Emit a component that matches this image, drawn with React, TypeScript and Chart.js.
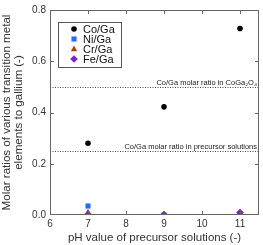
import React, { useEffect, useRef } from "react";
import { Chart, registerables } from "chart.js";

Chart.register(...registerables);

const phValues = [7, 9, 11];
const coGa = [0.28, 0.422, 0.728];
const niGa = [0.035, 0.0, 0.002];
const crGa = [0.01, 0.002, 0.008];
const feGa = [0.003, 0.002, 0.01];
const seriesNames = ["Co/Ga", "Ni/Ga", "Cr/Ga", "Fe/Ga"];
const xTickValues = [6, 7, 8, 9, 10, 11];
const refValues = [0.5, 0.25];
const refLabels = ["Co/Ga molar ratio in CoGa\u2082O\u2084", "Co/Ga molar ratio in precursor solutions"];
const xTitle = "pH value of precursor solutions (-)";
const yTitle = ["Molar ratios of various transition metal", "elements to gallium (-)"];

const FONT = "'Liberation Sans', Arial, Helvetica, sans-serif";
const TEXT = "#333333";
const FRAME = "#666666";

function drawMarker(ctx: CanvasRenderingContext2D, style: string, x: number, y: number, r: number, color: string) {
  ctx.fillStyle = color;
  ctx.beginPath();
  if (style === "circle") {
    ctx.arc(x, y, r, 0, Math.PI * 2);
  } else if (style === "rect") {
    const s = Math.SQRT1_2 * r;
    ctx.rect(x - s, y - s, 2 * s, 2 * s);
  } else if (style === "triangle") {
    ctx.moveTo(x, y - r);
    ctx.lineTo(x + r * 0.866, y + r * 0.5 + 0.5);
    ctx.lineTo(x - r * 0.866, y + r * 0.5 + 0.5);
    ctx.closePath();
  } else {
    ctx.moveTo(x, y - r);
    ctx.lineTo(x + r, y);
    ctx.lineTo(x, y + r);
    ctx.lineTo(x - r, y);
    ctx.closePath();
  }
  ctx.fill();
}

const framePlugin = {
  id: "frame",
  afterDatasetsDraw(chart: any) {
    const { ctx, chartArea: a, scales } = chart;
    const xs = scales.x;
    const ys = scales.y;
    ctx.save();
    ctx.strokeStyle = "#444";
    ctx.lineWidth = 1;
    ctx.setLineDash([1, 1.5]);
    refValues.forEach((v, i) => {
      const y = Math.round(ys.getPixelForValue(v)) + 0.5;
      ctx.beginPath();
      ctx.moveTo(a.left, y);
      ctx.lineTo(a.right, y);
      ctx.stroke();
      ctx.fillStyle = "#222";
      ctx.font = `7.5px ${FONT}`;
      ctx.textAlign = "right";
      ctx.textBaseline = "alphabetic";
      ctx.fillText(refLabels[i], a.right - 2, y - 3);
    });
    ctx.setLineDash([]);
    ctx.strokeStyle = FRAME;
    ctx.lineWidth = 1;
    ctx.strokeRect(a.left + 0.5, a.top + 0.5, a.right - a.left - 1, a.bottom - a.top - 1);
    const tl = 4;
    ctx.beginPath();
    xs.ticks.forEach((t: any) => {
      const x = Math.round(xs.getPixelForValue(t.value)) + 0.5;
      if (x <= a.left + 1 || x >= a.right - 1) return;
      ctx.moveTo(x, a.bottom);
      ctx.lineTo(x, a.bottom - tl);
      ctx.moveTo(x, a.top);
      ctx.lineTo(x, a.top + tl);
    });
    ys.ticks.forEach((t: any) => {
      const y = Math.round(ys.getPixelForValue(t.value)) + 0.5;
      if (y <= a.top + 1 || y >= a.bottom - 1) return;
      ctx.moveTo(a.left, y);
      ctx.lineTo(a.left + tl, y);
      ctx.moveTo(a.right, y);
      ctx.lineTo(a.right - tl, y);
    });
    ctx.stroke();
    const bx = a.left + 8;
    const by = a.top + 12;
    const bw = 63;
    const bh = 45;
    ctx.fillStyle = "#fff";
    ctx.fillRect(bx, by, bw, bh);
    ctx.strokeStyle = "#555";
    ctx.strokeRect(bx + 0.5, by + 0.5, bw, bh);
    chart.data.datasets.forEach((ds: any, i: number) => {
      const cy = by + 7 + i * 10;
      const cx = bx + 16;
      drawMarker(ctx, ds.pointStyle, cx, cy, ds.pointRadius, ds.backgroundColor);
      ctx.fillStyle = "#111";
      ctx.font = `11px ${FONT}`;
      ctx.textAlign = "left";
      ctx.textBaseline = "middle";
      ctx.fillText(ds.label, bx + 25, cy + 0.5);
    });
    ctx.restore();
  },
};

export default function App() {
  const ref = useRef<HTMLCanvasElement>(null);
  useEffect(() => {
    document.body.style.margin = "0";
    const mk = (vals: number[]) => phValues.map((x, i) => ({ x, y: vals[i] }));
    const chart = new Chart(ref.current!, {
      type: "scatter",
      data: {
        datasets: [
          { label: seriesNames[0], data: mk(coGa), pointStyle: "circle", pointRadius: 2.8, backgroundColor: "#000", borderWidth: 0, order: 3 },
          { label: seriesNames[1], data: mk(niGa), pointStyle: "rect", pointRadius: 3.6, backgroundColor: "#1f6dff", borderWidth: 0, order: 2 },
          { label: seriesNames[2], data: mk(crGa), pointStyle: "triangle", pointRadius: 3.6, backgroundColor: "#a8400f", borderWidth: 0, order: 1 },
          { label: seriesNames[3], data: mk(feGa), pointStyle: "rectRot", pointRadius: 3.8, backgroundColor: "#7a22cc", borderWidth: 0, order: 0 },
        ] as any,
      },
      options: {
        responsive: false,
        animation: false,
        layout: { padding: { top: 5, right: 2, left: 0, bottom: 0 } },
        plugins: { legend: { display: false }, tooltip: { enabled: false } },
        scales: {
          x: {
            type: "linear",
            min: 6,
            max: 11.5,
            grid: { display: false, drawTicks: false },
            border: { display: false },
            afterBuildTicks: (s: any) => { s.ticks = xTickValues.map((v) => ({ value: v })); },
            ticks: { color: TEXT, font: { family: FONT, size: 10 }, padding: 3, maxRotation: 0 },
            title: { display: true, text: xTitle, color: TEXT, font: { family: FONT, size: 11.5 }, padding: { top: 2, bottom: 0 } },
            afterFit: (s: any) => { s.height = 30; },
          },
          y: {
            type: "linear",
            min: 0,
            max: 0.8,
            grid: { display: false, drawTicks: false },
            border: { display: false },
            ticks: { stepSize: 0.2, color: TEXT, font: { family: FONT, size: 10 }, padding: 4, callback: (v: any) => Number(v).toFixed(1) },
            title: { display: true, text: yTitle, color: TEXT, font: { family: FONT, size: 11.6, lineHeight: 1.05 }, padding: { top: 1, bottom: 0 } },
            afterFit: (s: any) => { s.width = 50; },
          },
        },
      } as any,
      plugins: [framePlugin],
    });
    return () => chart.destroy();
  }, []);
  return <canvas ref={ref} width={263} height={245} style={{ display: "block" }} />;
}
